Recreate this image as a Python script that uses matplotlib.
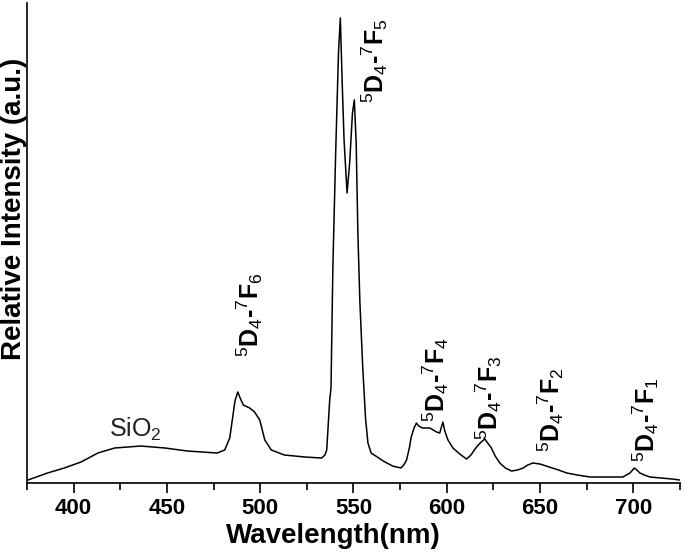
import numpy as np
import matplotlib
matplotlib.use('Agg')
from matplotlib import pyplot as plt

plt.rcParams['font.family'] = ['Liberation Sans', 'DejaVu Sans']
plt.rcParams['mathtext.fontset'] = 'custom'
plt.rcParams['mathtext.rm'] = 'Liberation Sans'
plt.rcParams['mathtext.it'] = 'Liberation Sans:italic'
plt.rcParams['mathtext.bf'] = 'Liberation Sans:bold'

# spectrum (wavelength in nm, intensity in arbitrary units)
wavelength = [375.5, 380, 386, 395, 404, 413, 422, 436, 449, 461, 477, 481, 483.7, 485,
              486.5, 488, 489.5, 491, 494.4, 497, 499.8, 502.5, 506, 513, 524, 533, 534.7,
              535.7, 537.3, 538, 539, 540.5, 542, 543, 544, 545, 546.6, 548, 549.5, 550.5,
              551.5, 552.4, 553.5, 555, 556.5, 557.8, 559.5, 562, 566, 571, 575.5, 577,
              578.5, 580, 581, 582.5, 583.8, 585, 587, 591, 594.6, 596.3, 597.2, 598, 599,
              600.7, 603.4, 607, 610.7, 613, 616, 618.5, 620.5, 622, 624, 626, 628.5,
              631.5, 634.8, 638, 641, 643.5, 646.2, 650, 655, 660, 664.5, 670, 677, 686,
              694.5, 698.3, 700.6, 702, 703.6, 706, 709, 715, 721, 725]
intensity = [3, 6, 10, 15, 21, 30, 35, 37, 35, 32, 30, 33, 45, 62,
             82, 91, 84, 78, 75, 71, 63, 43, 33, 28, 26, 25, 28,
             33, 83, 95, 216, 330, 430, 465, 400, 343, 290, 320, 370, 383,
             340, 250, 180, 116, 65, 40, 30, 27, 22, 17, 15, 18,
             23, 35, 46, 55, 60, 57, 55, 55, 51, 50, 56, 61, 52,
             43, 35, 29, 24, 28, 36, 41, 44, 40, 35, 27, 20,
             15, 12, 13, 15, 18, 20, 19, 16, 13, 10, 8, 6, 6,
             6, 10, 15, 13, 10, 8, 6, 5, 4, 3]

# transition labels and where they sit
labels = [r'$^{5}\mathbf{D}_{4}$-$^{7}\mathbf{F}_{6}$',
          r'$^{5}\mathbf{D}_{4}$-$^{7}\mathbf{F}_{5}$',
          r'$^{5}\mathbf{D}_{4}$-$^{7}\mathbf{F}_{4}$',
          r'$^{5}\mathbf{D}_{4}$-$^{7}\mathbf{F}_{3}$',
          r'$^{5}\mathbf{D}_{4}$-$^{7}\mathbf{F}_{2}$',
          r'$^{5}\mathbf{D}_{4}$-$^{7}\mathbf{F}_{1}$']
label_x = [494.5, 561.5, 594, 622.5, 656, 706.5]
label_y = [126, 380, 61, 43, 31, 21]

fig = plt.figure(figsize=(6.85, 5.55), dpi=100)
ax = fig.add_axes([0.0394, 0.1297, 0.953, 0.865])

ax.plot(wavelength, intensity, color='black', lw=1.1)

for lab, x, y in zip(labels, label_x, label_y):
    ax.text(x, y, lab, rotation=90, ha='center', va='bottom', fontsize=18,
            fontweight='bold')
ax.text(433, 46, r'SiO$_2$', ha='center', va='baseline', fontsize=18, color='#222222')

ax.set_xlim(375, 725)
ax.set_ylim(0, 480)
ax.set_xticks(np.arange(400, 701, 50))
ax.set_xticks(np.arange(375, 726, 25), minor=True)
ax.set_yticks([])
ax.tick_params(axis='x', which='major', direction='out', length=7, width=1.2,
               labelsize=16, pad=4)
ax.tick_params(axis='x', which='minor', direction='out', length=5, width=1.2)
for t in ax.get_xticklabels():
    t.set_fontweight('bold')

ax.spines['top'].set_visible(False)
ax.spines['right'].set_visible(False)
ax.spines['left'].set_linewidth(1.2)
ax.spines['bottom'].set_linewidth(1.2)

ax.set_xlabel('Wavelength(nm)', fontsize=20, fontweight='bold', va='center')
ax.xaxis.set_label_coords(0.47, -0.11)
ax.set_ylabel('Relative Intensity (a.u.)', fontsize=20, fontweight='bold', va='center')
ax.yaxis.set_label_coords(-0.0195, 0.57)

fig.savefig('out.png', dpi=100)
